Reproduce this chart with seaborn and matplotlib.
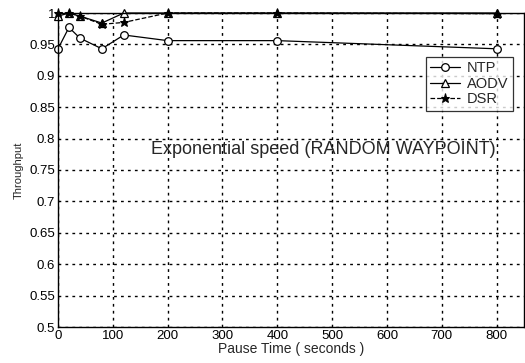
import pandas as pd
import matplotlib
matplotlib.use("Agg")
import matplotlib.pyplot as plt
import seaborn as sns

pause_time = [0, 20, 40, 80, 120, 200, 400, 800]
ntp = [0.943, 0.977, 0.960, 0.943, 0.965, 0.956, 0.956, 0.943]
aodv = [0.995, 1.0, 0.995, 0.984, 1.0, 1.0, 1.0, 1.0]
dsr = [1.0, 1.0, 0.995, 0.982, 0.985, 1.0, 1.0, 0.999]

sns.set_style("white")
plt.rcParams['font.family'] = ['Liberation Sans', 'DejaVu Sans']

df = pd.DataFrame({"pause": pause_time, "NTP": ntp, "AODV": aodv, "DSR": dsr})

fig = plt.figure(figsize=(5.25, 3.63), dpi=100)
ax = fig.add_axes([58 / 525, 1 - 327 / 363, (524 - 58) / 525, (327 - 13) / 363])

sns.lineplot(data=df, x="pause", y="NTP", ax=ax, color="black", lw=0.9,
             marker="o", markersize=5.5, markerfacecolor="white",
             markeredgecolor="black", markeredgewidth=0.9, label="NTP",
             clip_on=False)
sns.lineplot(data=df, x="pause", y="AODV", ax=ax, color="black", lw=0.9,
             marker="^", markersize=5.5, markerfacecolor="white",
             markeredgecolor="black", markeredgewidth=0.9, label="AODV",
             clip_on=False)
sns.lineplot(data=df, x="pause", y="DSR", ax=ax, color="black", lw=0.9,
             linestyle="--", marker="*", markersize=6.5, markerfacecolor="black",
             markeredgecolor="black", label="DSR", clip_on=False)

ax.set_xlim(0, 850)
ax.set_ylim(0.5, 1.0)
ax.set_xticks(range(0, 801, 100))
ax.set_yticks([0.5, 0.55, 0.6, 0.65, 0.7, 0.75, 0.8, 0.85, 0.9, 0.95, 1.0])
ax.set_yticklabels(["0.5", "0.55", "0.6", "0.65", "0.7", "0.75", "0.8",
                    "0.85", "0.9", "0.95", "1"])
ax.tick_params(direction="in", labelsize=9.5, length=3, colors="black", pad=2)
ax.grid(True, color="black", linestyle=(0, (2, 3)), linewidth=1.0)

for s in ax.spines.values():
    s.set_color("black")
    s.set_linewidth(1.0)

ax.set_xlabel("Pause Time ( seconds )", fontsize=10, labelpad=0)
ax.set_ylabel("Throughput", fontsize=8, labelpad=4)

ax.text(484, 0.782, "Exponential speed (RANDOM WAYPOINT)", fontsize=13,
        ha="center", va="center")

leg = ax.legend(loc="upper left", bbox_to_anchor=((426 - 58) / 466, 1 - (57 - 13) / 314),
                fontsize=10.5, frameon=True, fancybox=False, edgecolor="black",
                handlelength=2.0, borderpad=0.3, labelspacing=0.1,
                handletextpad=0.5, borderaxespad=0)
leg.get_frame().set_linewidth(0.9)

fig.savefig("out.png", dpi=100)
